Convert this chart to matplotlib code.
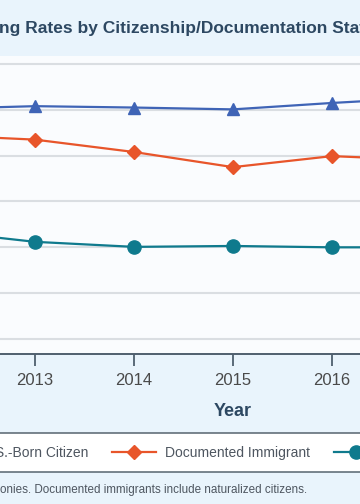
import matplotlib
matplotlib.use('Agg')
import matplotlib.pyplot as plt
from matplotlib.patches import Rectangle

# values (percent); 2012 and 2017 lie outside the visible crop
years = [2012, 2013, 2014, 2015, 2016, 2017]
us_born = [50.2, 50.8, 50.5, 50.1, 51.5, 52.7]
documented = [44.5, 43.5, 40.8, 37.5, 39.9, 39.0]
undocumented = [23.6, 21.2, 20.1, 20.3, 20.0, 20.0]
grid_vals = [0, 10, 20, 30, 40, 50, 60]
tick_years = [2012, 2013, 2014, 2015, 2016, 2017]

title_txt = 'ng Rates by Citizenship/Documentation Status'
note_txt = 'onies. Documented immigrants include naturalized citizens.'

BG = '#e9f4fc'
DARK = '#2d4862'
plt.rcParams['font.family'] = ['Liberation Sans', 'DejaVu Sans']

W, H = 360, 504
fig = plt.figure(figsize=(W / 100, H / 100), dpi=100, facecolor=BG)

def px(x, y):
    # pixel (from top-left) -> figure fraction
    return x / W, 1 - y / H

ax_top, ax_bot = 56, 354
ax = fig.add_axes([0, 1 - ax_bot / H, 1, (ax_bot - ax_top) / H])
ax.set_facecolor('#fafcfe')

ax.plot(years, us_born, color='#3f64b6', lw=1.6, marker='^', ms=9, label='U.S.-Born Citizen')
ax.plot(years, documented, color='#e8552a', lw=1.6, marker='D', ms=7, label='Documented Immigrant')
ax.plot(years, undocumented, color='#0f7a8d', lw=1.6, marker='o', ms=9.5, label='Undocumented Immigrant')

ax.set_yticks(grid_vals)
ax.yaxis.grid(True, color='#dadee2', lw=1.5)
ax.set_axisbelow(True)
ax.tick_params(axis='y', length=0, labelleft=False)
ax.set_xticks(tick_years)
ax.tick_params(axis='x', direction='out', length=8.5, width=1.3, color='#4f5f6e',
               labelsize=12, labelcolor='#4a4a4a', pad=5)
for s in ['top', 'left', 'right']:
    ax.spines[s].set_visible(False)
ax.spines['bottom'].set_color('#4f5f6e')
ax.spines['bottom'].set_linewidth(1.4)

# limits after set_xticks, which would widen them
x13 = 35
step = 99
ax.set_xlim(2013 - x13 / step, 2013 + (W - x13) / step)
gstep = 45.83
ax.set_ylim(-(ax_bot - 339) / gstep * 10, 60 + (64 - ax_top) / gstep * 10)

fig.text(*px(233, 411), 'Year', ha='center', va='center', fontsize=13,
         fontweight='bold', color=DARK)

title = fig.text(*px(-1, 28), title_txt, ha='left', va='center', fontsize=15,
                 fontweight='bold', color=DARK)

# white legend band
band = Rectangle(px(-10, 472), (W + 20) / W, 39 / H, transform=fig.transFigure,
                 facecolor='white', edgecolor='#56646f', lw=1.1, zorder=0)
fig.patches.append(band)

leg_fs = 10
fs_px = leg_fs * 100 / 72
handles, labels = ax.get_legend_handles_labels()
leg = fig.legend(handles, labels, ncol=3, loc='center left', bbox_to_anchor=px(0, 453),
                 frameon=False, fontsize=leg_fs, handlelength=44 / fs_px,
                 handletextpad=9 / fs_px, columnspacing=24 / fs_px,
                 borderpad=0, borderaxespad=0)
for t in leg.get_texts():
    t.set_color('#4e5660')

fig.text(*px(0, 490), note_txt, ha='left', va='center', fontsize=8.4, color='#4e5660')

fig.canvas.draw()
r = fig.canvas.get_renderer()

# title: "...Documentation" should end near x=328
probe = fig.text(0, 0, 'ng Rates by Citizenship/Documentation', fontsize=15,
                 fontweight='bold')
wid = probe.get_window_extent(r).width
probe.remove()
title.set_fontsize(15 * 329 / wid)

# shift legend so the second label starts where it does in the picture
x_now = leg.get_texts()[1].get_window_extent(r).x0
shift = (165 - x_now) / W
leg.set_bbox_to_anchor((shift, 1 - 453 / H), transform=fig.transFigure)

fig.savefig('out.png', dpi=100, facecolor=BG)
